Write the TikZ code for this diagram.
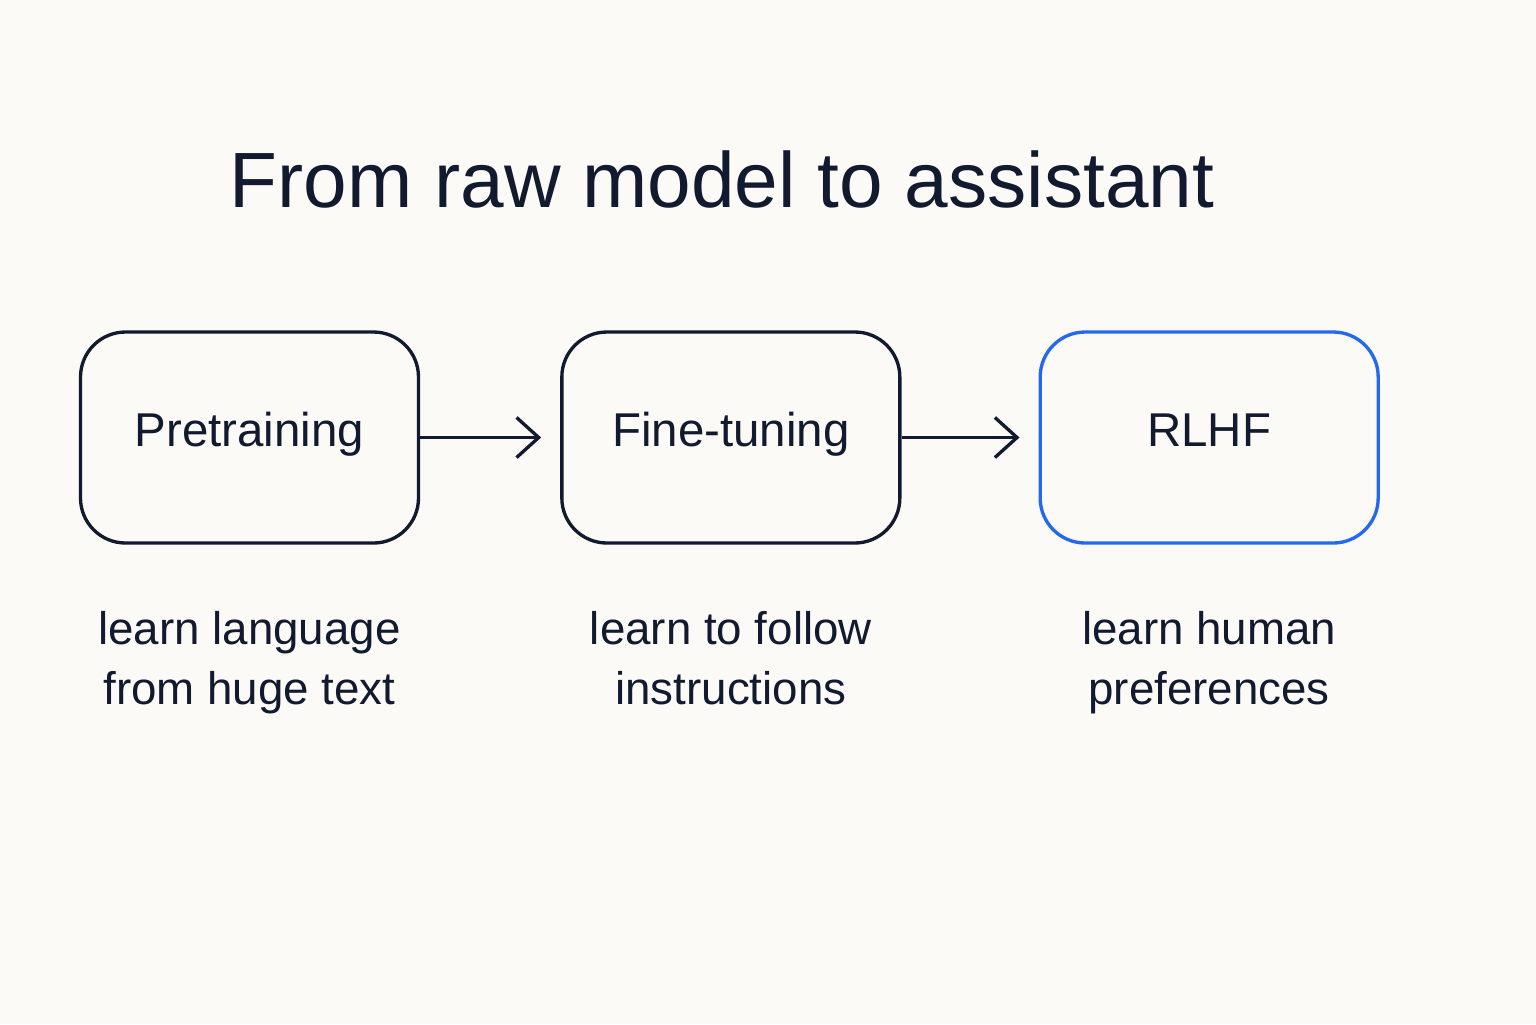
\documentclass[tikz,border=0pt]{standalone}
\usepackage{fontspec}
\setmainfont{Liberation Sans}
\usepackage{tikz}
\usetikzlibrary{positioning, arrows.meta}

\definecolor{ink}{HTML}{111A2E}
\definecolor{paper}{HTML}{FBFAF6}
\definecolor{accent}{HTML}{2468EE}

\begin{document}
\begin{tikzpicture}[
    stage_box/.style={rectangle, draw=ink, line width=0.95pt, rounded corners=0.45cm,
      minimum width=3.38cm, minimum height=2.11cm, inner sep=0pt,
      text=ink, font=\fontsize{13.5}{16}\selectfont, text height=0.75em, text depth=0.25em},
    note_text/.style={align=center, inner sep=0pt, text=ink,
      font=\fontsize{13}{17.1}\selectfont},
    flow_arrow/.style={-{Straight Barb[length=6.3pt, width=11.4pt]}, draw=ink,
      line width=0.95pt, shorten >=0.19cm},
    node distance=1.40cm and 1.40cm
  ]
    \fill[paper] (0,0) rectangle (15.36,-10.24);
    \useasboundingbox (0,0) rectangle (15.36,-10.24);

    \node[text=ink, font=\fontsize{22.3}{27}\selectfont, anchor=base] (title) at (7.22,-2.07) {From raw model to assistant};

    \node[stage_box] (pre) at (2.495,-4.375) {Pretraining};
    \node[stage_box, right=of pre] (fine) {Fine-tuning};
    \node[stage_box, right=1.37cm of fine, draw=accent] (rlhf) {RLHF};

    \node[note_text, below=0.66cm of pre] (pre_note) {learn language\\from huge text};
    \node[note_text, below=0.66cm of fine] (fine_note) {learn to follow\\instructions};
    \node[note_text, below=0.66cm of rlhf] (rlhf_note) {learn human\\preferences};

    \draw[flow_arrow] (pre) to (fine);
    \draw[flow_arrow] (fine) to (rlhf);
  \end{tikzpicture}
\end{document}
